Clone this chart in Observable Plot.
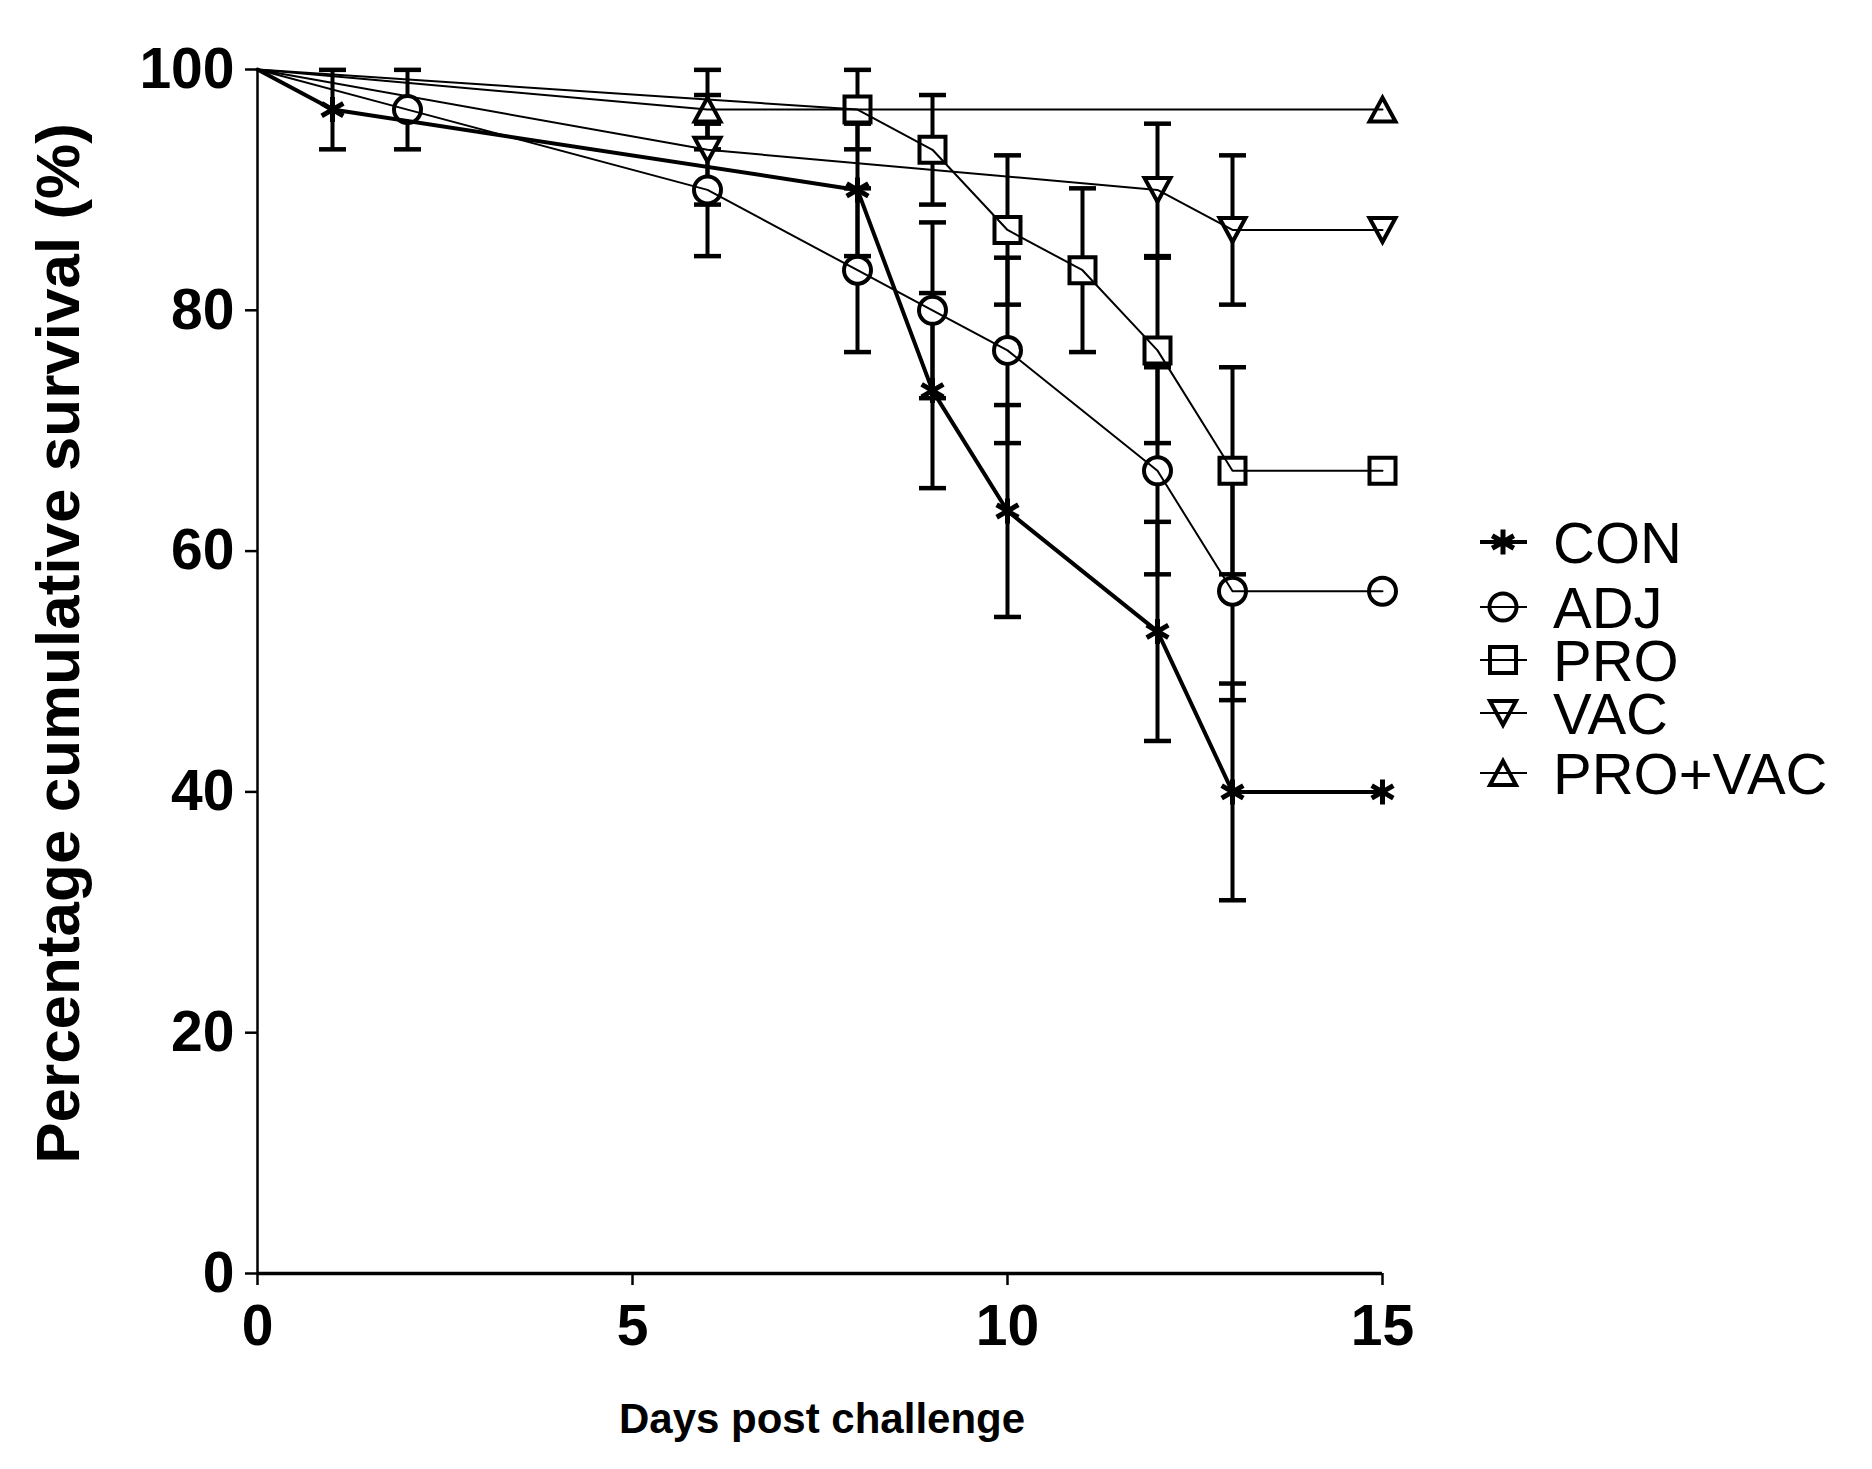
<!DOCTYPE html>
<html>
<head>
<meta charset="utf-8">
<script src="https://cdn.jsdelivr.net/npm/d3@7"></script>
<script src="https://cdn.jsdelivr.net/npm/@observablehq/plot@0.6"></script>
<style>
  html, body { margin: 0; padding: 0; background: #fff; }
  #chart { position: relative; width: 1872px; height: 1469px; font-family: "Liberation Sans", Arial, sans-serif; }
  #legend { position: absolute; left: 1460px; top: 500px; }
</style>
</head>
<body>
<div id="chart"></div>
<script>
// Survival data (days post challenge, % survival, error bar half-length)
var groupNames = ["CON", "ADJ", "PRO", "VAC", "PRO+VAC"];

var daysCON = [0, 1, 8, 9, 10, 12, 13, 15];
var survCON = [100, 96.67, 90, 73.33, 63.33, 53.33, 40, 40];
var errCON  = [0, 3.3, 5.5, 8.1, 8.8, 9.1, 9.0, 0];

var daysADJ = [0, 2, 6, 8, 9, 10, 12, 13, 15];
var survADJ = [100, 96.67, 90, 83.33, 80, 76.67, 66.67, 56.67, 56.67];
var errADJ  = [0, 3.3, 5.5, 6.8, 7.3, 7.7, 8.6, 9.05, 0];

var daysPRO = [0, 8, 9, 10, 11, 12, 13, 15];
var survPRO = [100, 96.67, 93.33, 86.67, 83.33, 76.67, 66.67, 66.67];
var errPRO  = [0, 3.3, 4.55, 6.2, 6.8, 7.7, 8.6, 0];

var daysVAC = [0, 6, 12, 13, 15];
var survVAC = [100, 93.33, 90, 86.67, 86.67];
var errVAC  = [0, 4.55, 5.5, 6.2, 0];

var daysPV = [0, 6, 15];
var survPV = [100, 96.67, 96.67];
var errPV  = [0, 3.3, 0];

var xTicks = [0, 5, 10, 15];
var yTicks = [0, 20, 40, 60, 80, 100];

// marker shapes (GraphPad-like, hollow)
var symSquare = { draw: function (c) { var h = 13; c.moveTo(-h, -h); c.lineTo(h, -h); c.lineTo(h, h); c.lineTo(-h, h); c.closePath(); } };
var symCircle = { draw: function (c) { var r = 13.5; c.moveTo(r, 0); c.arc(0, 0, r, 0, 2 * Math.PI); c.closePath(); } };
var symTriDown = { draw: function (c) { var w = 13, h = 12; c.moveTo(-w, -h); c.lineTo(w, -h); c.lineTo(0, h); c.closePath(); } };
var symTriUp = { draw: function (c) { var w = 13, h = 12; c.moveTo(-w, h); c.lineTo(w, h); c.lineTo(0, -h); c.closePath(); } };
var symStar = { draw: function (c) {
  var r = 12.5, u = r * Math.sqrt(3) / 2, t = r / 2;
  c.moveTo(0, r); c.lineTo(0, -r);
  c.moveTo(-u, -t); c.lineTo(u, t);
  c.moveTo(-u, t); c.lineTo(u, -t);
} };
var symCap = { draw: function (c) { c.moveTo(-13.5, 0); c.lineTo(13.5, 0); } };

var groups = [
  { name: groupNames[0], days: daysCON, surv: survCON, err: errCON, symbol: symStar, lw: 4, mw: 5 },
  { name: groupNames[1], days: daysADJ, surv: survADJ, err: errADJ, symbol: symCircle, lw: 2, mw: 4 },
  { name: groupNames[2], days: daysPRO, surv: survPRO, err: errPRO, symbol: symSquare, lw: 2, mw: 4 },
  { name: groupNames[3], days: daysVAC, surv: survVAC, err: errVAC, symbol: symTriDown, lw: 2, mw: 4 },
  { name: groupNames[4], days: daysPV, surv: survPV, err: errPV, symbol: symTriUp, lw: 2, mw: 4 }
];

function rowsOf(g) {
  return g.days.map(function (d, i) {
    return { day: d, surv: g.surv[i], lo: g.surv[i] - g.err[i], hi: Math.min(100, g.surv[i] + g.err[i]), err: g.err[i], group: g.name };
  });
}

var errMarks = [], markerMarks = [], lineMarks = [];
groups.forEach(function (g) {
  var rows = rowsOf(g);
  var withErr = rows.filter(function (r) { return r.err > 0; });
  var shown = rows.filter(function (r) { return r.day > 0; });
  errMarks.push(Plot.ruleX(withErr, { x: "day", y1: "lo", y2: "hi", stroke: "black", strokeWidth: 4 }));
  errMarks.push(Plot.dot(withErr, { x: "day", y: "lo", symbol: symCap, stroke: "black", fill: "none", strokeWidth: 4.5 }));
  errMarks.push(Plot.dot(withErr, { x: "day", y: "hi", symbol: symCap, stroke: "black", fill: "none", strokeWidth: 4.5 }));
  markerMarks.push(Plot.dot(shown, { x: "day", y: "surv", symbol: g.symbol, stroke: "black", fill: "white", strokeWidth: g.mw }));
  lineMarks.push(Plot.line(rows, { x: "day", y: "surv", stroke: "black", strokeWidth: g.lw }));
});

var tickFont = "'Liberation Sans', Arial, sans-serif";

var plot = Plot.plot({
  width: 1872,
  height: 1469,
  marginLeft: 257,
  marginRight: 490,
  marginTop: 69,
  marginBottom: 196,
  style: { fontFamily: tickFont, background: "white", color: "black", overflow: "visible" },
  x: { domain: [0, 15] },
  y: { domain: [0, 100] },
  marks: [
    Plot.axisX({ ticks: xTicks, tickSize: 12, tickPadding: 19, fontSize: 57, fontWeight: "bold", strokeWidth: 2.5, label: null }),
    Plot.axisY({ ticks: yTicks, tickSize: 12, tickPadding: 11, fontSize: 57, fontWeight: "bold", strokeWidth: 2.5, label: null }),
    Plot.ruleX([0], { strokeWidth: 2.5 }),
    Plot.ruleY([0], { x1: 0, x2: 15, strokeWidth: 3.5 }),
    Plot.text(["Percentage cumulative survival (%)"], {
      text: function (d) { return d; }, frameAnchor: "left", textAnchor: "middle", lineAnchor: "bottom",
      rotate: -90, dx: -179, dy: -28, fontSize: 62, fontWeight: "bold"
    }),
    Plot.text(["Days post challenge"], {
      text: function (d) { return d; }, frameAnchor: "bottom", textAnchor: "middle", lineAnchor: "bottom",
      dx: 2, dy: 159, fontSize: 42, fontWeight: "bold"
    })
  ].concat(errMarks, markerMarks, lineMarks)
});

var chart = document.getElementById("chart");
chart.appendChild(plot);

// legend (symbol with short line, then the group name)
var legendY = [42, 107, 160, 213, 273];
var leg = d3.select(chart).append("svg")
  .attr("id", "legend")
  .attr("width", 412)
  .attr("height", 320);
groups.forEach(function (g, i) {
  var row = leg.append("g").attr("transform", "translate(43," + legendY[i] + ")");
  row.append("line").attr("x1", -23).attr("x2", 24).attr("y1", 0).attr("y2", 0)
    .attr("stroke", "black").attr("stroke-width", g.lw);
  row.append("path").attr("d", d3.symbol(g.symbol)())
    .attr("fill", "none").attr("stroke", "black").attr("stroke-width", g.mw);
  row.append("text").attr("x", 50).attr("y", 21)
    .attr("font-family", tickFont).attr("font-size", 58).attr("fill", "black")
    .text(g.name);
});
</script>
</body>
</html>
